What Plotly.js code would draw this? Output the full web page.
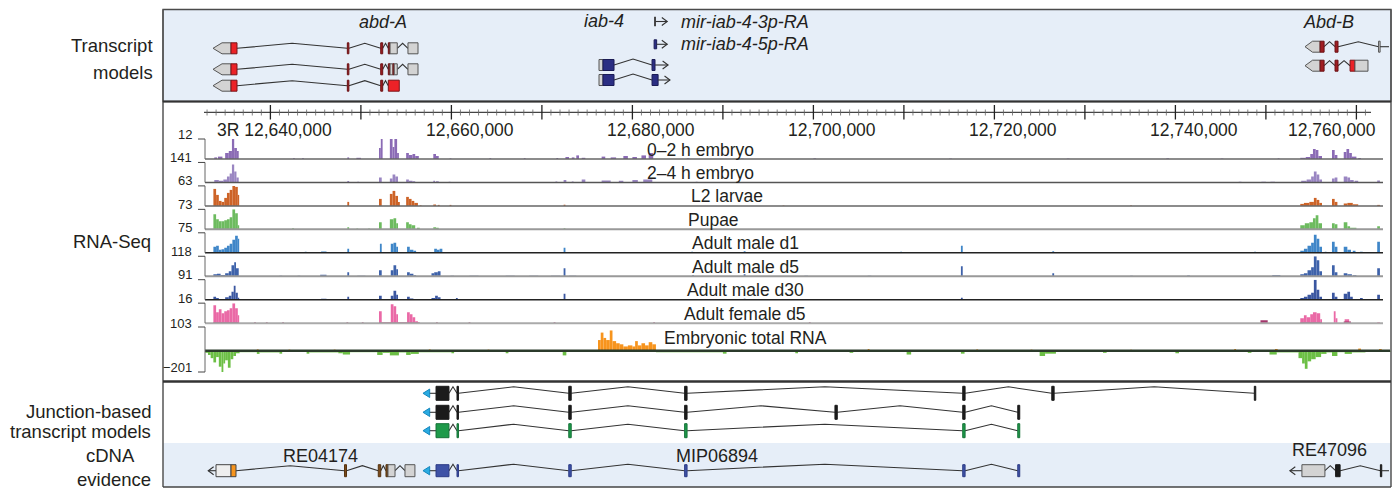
<!DOCTYPE html>
<html><head><meta charset="utf-8">
<script src="https://cdn.plot.ly/plotly-3.0.1.min.js"></script>
<style>html,body{margin:0;padding:0;background:#fff}#chart{width:1397px;height:489px}</style>
</head><body><div id="chart"></div>
<script>
// ---------------- DATA (genomic positions in kb relative to 3R:12,640,000) ----------------
const rulerLabelKb = [0, 20, 40, 60, 80, 100, 120];
const rulerLabelText = ['3R 12,640,000','12,660,000','12,680,000','12,700,000','12,720,000','12,740,000','12,760,000'];

const trackNames = ['0–2 h embryo','2–4 h embryo','L2 larvae','Pupae','Adult male d1','Adult male d5','Adult male d30','Adult female d5','Embryonic total RNA'];
const trackScaleLabels = ['12','141','63','73','75','118','91','16','103'];
const totalBottomLabel = '−201';

// coverage segments [startKb, endKb, fraction of track height]
const cov_e02 = [[-6.2,-5.9,0.08],[-5.8,-5.3,0.12],[-5.0,-4.6,0.3],[-4.6,-4.25,0.4],[-4.25,-4.0,1.0],[-4.0,-3.7,0.55],[-3.7,-3.5,0.4],
 [2.5,2.7,0.04],[3.5,3.7,0.04],[8.5,8.7,0.08],[9.5,10.0,0.06],
 [12.0,12.2,0.55],[12.2,12.4,1.0],[13.2,13.5,1.0],[13.5,13.7,0.6],[13.7,14.0,1.0],[14.0,14.2,0.3],
 [15.0,15.3,0.3],[15.3,15.7,0.2],[15.7,16.0,0.25],[16.0,16.4,0.15],[18.0,18.3,0.25],[18.3,18.6,0.15],
 [19.8,20.0,0.03],[24.2,24.4,0.04],[28.0,28.2,0.04],[31.6,31.8,0.05],[32.6,33.0,0.1],[33.3,33.6,0.08],[33.8,34.1,0.18],[34.4,34.8,0.06],
 [36.6,37.0,0.12],[37.6,38.2,0.08],[39.0,39.5,0.15],[40.0,40.5,0.1],[41.0,41.5,0.18],[41.8,42.3,0.3],
 [46.0,46.3,0.03],[52.0,52.3,0.02],[60.0,60.3,0.03],[75.0,75.3,0.02],[88.0,88.3,0.02],[99.0,99.3,0.03],[105.0,105.3,0.02],[111.3,111.5,0.03],
 [113.8,114.4,0.06],[114.4,114.9,0.1],[114.9,115.2,0.25],[115.2,115.5,0.5],[115.5,115.8,0.45],[115.8,116.2,0.15],[117.3,117.6,0.45],[117.6,117.9,0.2],
 [118.6,118.9,0.35],[118.9,119.2,0.5],[119.2,119.5,0.3],[119.5,120.0,0.12],[120.2,120.5,0.05]];
const cov_e24 = [[-6.2,-5.7,0.12],[-5.7,-5.2,0.08],[-5.2,-4.8,0.15],[-4.8,-4.5,0.3],[-4.5,-4.25,0.45],[-4.25,-4.0,0.9],[-4.0,-3.75,0.55],[-3.75,-3.5,0.25],
 [8.5,8.7,0.07],[9.6,9.8,0.03],[12.0,12.3,0.25],[13.2,13.5,0.2],[13.5,13.8,0.4],[13.8,14.1,0.3],[15.0,15.3,0.15],[15.3,15.7,0.08],[15.7,16.0,0.06],
 [18.0,18.2,0.08],[18.3,18.6,0.06],[19.7,19.9,0.03],[23.5,23.7,0.02],[31.5,31.7,0.05],[32.4,32.7,0.12],[33.3,33.5,0.05],[34.4,34.8,0.15],
 [36.6,37.6,0.1],[38.5,39.0,0.08],[40.0,40.6,0.12],[41.2,42.2,0.15],
 [44.0,44.2,0.02],[47.0,47.2,0.03],[56.0,56.2,0.02],[63.0,63.3,0.02],[78.0,78.2,0.02],[94.0,94.3,0.02],[107.0,107.3,0.03],[109.5,110.0,0.04],[110.5,111.0,0.04],
 [113.9,114.5,0.08],[114.5,115.0,0.15],[115.0,115.3,0.3],[115.3,115.6,0.55],[115.6,115.9,0.4],[115.9,116.2,0.15],[117.3,117.6,0.2],[117.6,117.9,0.25],
 [118.6,119.0,0.3],[119.0,119.3,0.25],[119.3,119.7,0.12],[119.8,120.2,0.08],[122.3,122.6,0.1]];
const cov_l2 = [[-6.3,-6.0,0.85],[-6.0,-5.7,0.55],[-5.7,-5.4,0.25],[-5.4,-5.1,0.2],[-5.1,-4.8,0.4],[-4.8,-4.5,0.65],[-4.5,-4.2,0.8],[-4.2,-3.9,1.0],[-3.9,-3.6,0.95],[-3.6,-3.45,0.55],
 [8.5,8.7,0.2],[12.0,12.3,0.35],[13.2,13.5,0.6],[13.5,13.8,0.75],[13.8,14.1,0.5],[14.1,14.3,0.2],[15.0,15.3,0.45],[15.3,15.6,0.35],[15.6,15.9,0.25],[15.9,16.3,0.15],
 [16.5,16.7,0.03],[18.0,18.3,0.07],[18.5,18.7,0.05],[19.8,20.0,0.05],[32.4,32.6,0.06],[56.6,56.8,0.02],[95.0,95.2,0.02],
 [113.8,114.2,0.1],[114.2,114.8,0.15],[114.8,115.3,0.2],[115.3,115.6,0.4],[115.6,115.9,0.3],[115.9,116.2,0.15],[117.3,117.6,0.35],[117.6,117.9,0.2],
 [118.6,119.0,0.12],[119.0,119.6,0.15],[119.6,120.2,0.08],[122.3,122.6,0.05]];
const cov_pupae = [[-6.3,-6.0,0.75],[-6.0,-5.7,0.5],[-5.7,-5.4,0.4],[-5.4,-5.1,0.4],[-5.1,-4.8,0.45],[-4.8,-4.5,0.5],[-4.5,-4.2,0.6],[-4.2,-3.9,1.0],[-3.9,-3.6,0.8],[-3.6,-3.45,0.2],
 [2.4,2.6,0.05],[8.5,8.7,0.1],[9.5,9.7,0.04],[10.8,11.0,0.04],[12.0,12.3,0.35],[13.2,13.6,0.5],[13.6,13.9,0.55],[13.9,14.1,0.3],[15.0,15.3,0.35],[15.3,15.6,0.25],[15.6,16.0,0.2],[16.2,16.5,0.08],
 [18.0,18.3,0.1],[18.3,18.6,0.08],[32.4,32.6,0.06],
 [113.8,114.3,0.2],[114.3,114.8,0.3],[114.8,115.2,0.35],[115.2,115.5,0.55],[115.5,115.8,0.7],[115.8,116.2,0.3],[117.3,117.6,0.3],[117.6,117.9,0.25],
 [118.6,119.0,0.35],[119.0,119.3,0.15],[119.3,120.0,0.08],[122.3,122.6,0.15]];
const cov_m1 = [[-6.3,-6.0,0.3],[-6.0,-5.7,0.35],[-5.7,-5.4,0.15],[-5.4,-5.1,0.18],[-5.1,-4.8,0.25],[-4.8,-4.5,0.35],[-4.5,-4.2,0.45],[-4.2,-3.9,0.65],[-3.9,-3.6,0.85],[-3.6,-3.45,0.7],
 [3.8,4.0,0.05],[4.2,4.4,0.04],[5.6,6.2,0.06],[8.5,8.7,0.2],[12.1,12.3,0.45],[13.3,13.6,0.45],[13.6,13.9,0.5],[13.9,14.1,0.3],[15.1,15.4,0.3],[15.4,15.8,0.15],[15.8,16.1,0.1],
 [18.1,18.4,0.2],[18.4,18.7,0.15],[18.7,19.0,0.2],[19.5,19.7,0.03],[22.0,22.2,0.03],[28.0,28.2,0.03],[31.3,31.5,0.03],[32.4,32.6,0.25],
 [46.5,46.7,0.05],[52.3,52.5,0.08],[69.6,69.8,0.05],[76.3,76.5,0.35],[86.4,86.6,0.08],[90.0,90.2,0.03],[100.0,100.2,0.03],[108.7,108.9,0.05],
 [113.8,114.2,0.1],[114.2,114.6,0.2],[114.6,115.0,0.35],[115.0,115.3,0.5],[115.3,115.6,0.9],[115.6,115.9,0.7],[115.9,116.2,0.3],[116.5,116.7,0.05],[117.3,117.6,0.55],[117.6,117.9,0.3],
 [118.6,119.0,0.3],[119.0,119.4,0.15],[119.6,119.9,0.1],[120.4,120.7,0.05],[122.3,122.6,0.55]];
const cov_m5 = [[-6.3,-5.9,0.1],[-5.9,-5.5,0.12],[-5.5,-5.0,0.06],[-5.0,-4.6,0.15],[-4.6,-4.3,0.25],[-4.3,-4.0,0.55],[-4.0,-3.8,0.7],[-3.8,-3.5,0.4],
 [1.0,1.3,0.02],[3.0,3.3,0.02],[5.5,6.2,0.08],[8.5,8.7,0.2],[9.6,10.5,0.02],[12.0,12.3,0.3],[13.3,13.6,0.3],[13.6,13.9,0.55],[13.9,14.1,0.35],[15.1,15.4,0.2],[15.4,15.8,0.12],[15.8,16.1,0.05],
 [17.8,18.1,0.15],[18.1,18.5,0.2],[18.5,18.8,0.25],[19.9,20.3,0.02],[22.0,23.0,0.02],[26.0,27.0,0.02],[28.6,29.6,0.02],[31.0,32.0,0.02],[32.4,32.6,0.4],[33.0,33.8,0.02],
 [46.6,46.8,0.05],[52.3,52.5,0.1],[59.0,59.4,0.02],[66.0,66.4,0.02],[76.3,76.5,0.5],[86.4,86.6,0.15],[95.0,95.3,0.02],[101.3,101.6,0.04],[110.7,111.6,0.05],
 [113.8,114.2,0.1],[114.2,114.6,0.15],[114.6,115.0,0.3],[115.0,115.3,0.45],[115.3,115.6,1.0],[115.6,115.9,0.8],[115.9,116.2,0.25],[117.3,117.6,0.55],[117.6,117.9,0.2],
 [118.6,119.0,0.15],[119.0,119.5,0.1],[119.6,120.0,0.05],[122.3,122.6,0.4]];
const cov_m30 = [[-6.3,-6.0,0.15],[-6.0,-5.7,0.08],[-5.0,-4.6,0.12],[-4.6,-4.3,0.2],[-4.3,-4.05,0.4],[-4.05,-3.85,0.7],[-3.85,-3.6,0.35],[-3.6,-3.45,0.1],
 [5.6,6.2,0.05],[8.5,8.7,0.15],[12.0,12.3,0.2],[13.3,13.6,0.2],[13.6,13.9,0.45],[13.9,14.1,0.25],[15.1,15.4,0.15],[15.4,15.8,0.06],
 [17.8,18.2,0.08],[18.2,18.5,0.2],[18.5,18.8,0.12],[20.5,20.7,0.08],[21.3,21.5,0.03],[32.4,32.6,0.3],
 [52.3,52.5,0.05],[76.3,76.5,0.1],[94.5,94.7,0.03],[101.5,101.7,0.03],
 [113.8,114.2,0.08],[114.2,114.6,0.15],[114.6,115.0,0.25],[115.0,115.3,0.35],[115.3,115.6,1.0],[115.6,115.9,0.5],[115.9,116.2,0.15],[117.3,117.6,0.35],[117.6,117.9,0.15],
 [118.6,119.0,0.3],[119.0,119.3,0.4],[119.3,119.6,0.15],[120.4,120.7,0.08],[122.3,122.6,0.25]];
const cov_f5 = [[-6.3,-6.0,0.9],[-6.0,-5.7,0.55],[-5.7,-5.4,0.7],[-5.4,-5.1,0.5],[-5.1,-4.8,0.6],[-4.8,-4.5,0.65],[-4.5,-4.2,0.75],[-4.2,-3.9,1.0],[-3.9,-3.6,0.75],[-3.6,-3.45,0.4],
 [12.0,12.3,0.6],[13.3,13.6,0.95],[13.6,13.9,0.85],[13.9,14.1,0.45],[15.1,15.4,0.55],[15.4,15.7,0.45],[15.7,16.0,0.3],[16.0,16.3,0.1],
 [113.8,114.2,0.25],[114.2,114.5,0.4],[114.5,114.9,0.3],[114.9,115.2,0.45],[115.2,115.6,0.55],[115.6,116.0,0.5],[116.0,116.2,0.2],[117.5,117.7,0.6],[117.7,117.9,0.25],[118.7,119.2,0.2],[122.3,122.6,0.05]];
const cov_f5_dark = [[-6.3,-3.5,0.06],[-1.8,-1.6,0.05],[-0.5,-0.3,0.05],[1.3,1.5,0.05],[8.4,8.6,0.05],[10.1,10.3,0.05],[12.0,16.5,0.05],[18.3,18.5,0.05],[21.9,22.1,0.04],
 [31.3,31.5,0.04],[42.3,42.5,0.05],[59.5,59.7,0.04],[109.4,110.2,0.15],[113.8,116.2,0.06],[118.6,119.4,0.08]];
const cov_tot_pos = [[36.2,36.5,0.5],[36.5,36.8,0.85],[36.8,37.1,0.6],[37.1,37.5,0.5],[37.5,37.8,0.95],[37.8,38.2,0.45],[38.2,38.6,0.35],[38.6,39.0,0.3],[39.0,39.5,0.2],
 [39.5,40.0,0.25],[40.0,40.3,0.2],[40.3,40.6,0.45],[40.6,41.0,0.25],[41.0,41.4,0.35],[41.4,41.8,0.25],[41.8,42.2,0.4],[42.2,42.6,0.3],
 [-1.5,-1.3,0.06],[2.0,2.2,0.05],[7.0,7.2,0.05],[17.5,17.7,0.06],[24.0,24.2,0.05],[52.0,52.2,0.04],[60.0,60.2,0.05],[66.0,66.2,0.08],[78.0,78.2,0.06],
 [84.0,84.2,0.05],[95.0,95.2,0.05],[106.5,106.7,0.08],[111.0,111.3,0.08],[120.2,120.5,0.1],[122.5,122.8,0.08]];
const cov_tot_neg = [[-7.2,-6.9,-0.1],[-6.9,-6.6,-0.2],[-6.6,-6.3,-0.35],[-6.3,-6.0,-0.55],[-6.0,-5.7,-0.3],[-5.7,-5.4,-0.75],[-5.4,-5.2,-1.0],[-5.2,-5.0,-0.6],[-5.0,-4.7,-0.45],
 [-4.7,-4.4,-0.8],[-4.4,-4.1,-0.4],[-4.1,-3.8,-0.25],[-3.8,-3.4,-0.12],[-3.4,-1.5,-0.07],[-1.5,-1.2,-0.15],[-1.2,1.0,-0.08],[1.0,1.3,-0.14],[1.3,4.0,-0.06],[4.0,4.3,-0.14],
 [4.3,7.5,-0.08],[7.5,8.0,-0.12],[8.0,8.8,-0.18],[8.8,11.8,-0.07],[11.8,12.4,-0.2],[12.4,13.2,-0.1],[13.2,14.2,-0.22],[14.2,15.0,-0.08],[15.0,15.5,-0.2],[15.5,16.4,-0.15],
 [16.4,20.0,-0.07],[20.0,20.3,-0.12],[20.3,26.0,-0.06],[26.0,26.3,-0.12],[26.3,32.3,-0.06],[32.3,32.7,-0.22],[32.7,36.0,-0.06],[36.0,42.6,-0.04],[42.6,50.0,-0.07],
 [50.0,50.4,-0.14],[50.4,58.0,-0.06],[58.0,58.3,-0.12],[58.3,64.0,-0.05],[64.0,64.4,-0.1],[64.4,70.3,-0.06],[70.3,70.8,-0.18],[70.8,76.3,-0.06],[76.3,76.7,-0.14],
 [76.7,85.0,-0.05],[85.0,85.6,-0.25],[85.6,86.8,-0.14],[86.8,92.0,-0.06],[92.0,92.4,-0.1],[92.4,100.0,-0.05],[100.0,100.4,-0.12],[100.4,108.0,-0.06],[108.0,108.4,-0.1],
 [108.4,110.4,-0.06],[110.4,111.2,-0.18],[111.2,113.6,-0.08],[113.6,114.0,-0.35],[114.0,114.3,-0.6],[114.3,114.6,-0.85],[114.6,115.0,-0.5],[115.0,115.5,-0.4],
 [115.5,116.1,-0.3],[116.1,116.7,-0.15],[116.7,117.3,-0.08],[117.3,117.9,-0.25],[117.9,118.7,-0.07],[118.7,119.5,-0.15],[119.5,121.0,-0.08],[121.0,123.8,-0.06]];

// gene models: exon parts [startKb, endKb, kind]
const abdA_tx = [
 [[-6.34,-4.35,'u'],[-4.35,-3.69,'c'],[8.50,8.67,'d'],[12.19,12.41,'d'],[13.03,13.22,'d'],[13.22,14.02,'u'],[15.20,16.31,'u']],
 [[-6.34,-4.35,'u'],[-4.35,-3.69,'c'],[8.50,8.67,'d'],[12.19,12.41,'d'],[13.03,13.22,'d'],[13.22,13.55,'u'],[13.55,13.68,'d'],[13.68,14.02,'u'],[15.20,16.31,'u']],
 [[-6.34,-4.35,'u'],[-4.35,-3.69,'c'],[8.50,8.67,'d'],[12.19,12.41,'d'],[13.03,14.24,'c']]];
const iab4_tx = [
 [[36.31,36.75,'u'],[36.75,37.97,'n'],[42.17,42.50,'n']],
 [[36.31,36.75,'u'],[36.75,37.97,'n'],[42.17,42.84,'n']]];
const iab4_end = [43.94, 44.15];
const mir_tx = [[42.45,42.55,'mirA','mir-iab-4-3p-RA'],[42.40,42.68,'n','mir-iab-4-5p-RA']];
const mir_end = 43.85;
const abdB_tx = [
 [[114.32,115.99,'u'],[115.99,116.43,'d'],[117.64,117.97,'d'],[122.45,122.62,'u']],
 [[114.32,115.99,'u'],[115.99,116.43,'d'],[117.64,117.97,'d'],[119.30,119.84,'c'],[119.84,121.28,'u']]];
const abdB_tail = 123.6;
const junc_tx = [
 [[18.30,19.73,'k'],[20.62,20.78,'k'],[32.97,33.24,'k'],[45.77,46.04,'k'],[76.50,76.76,'k'],[86.34,86.60,'k'],[108.72,108.88,'k']],
 [[18.30,19.73,'k'],[20.62,20.78,'k'],[32.97,33.24,'k'],[45.77,46.04,'k'],[62.38,62.64,'k'],[76.50,76.76,'k'],[82.58,82.80,'k']],
 [[18.30,19.73,'g'],[20.62,20.78,'g'],[32.97,33.24,'g'],[45.77,46.04,'g'],[76.50,76.76,'g'],[82.58,82.80,'g']]];
const cdna_RE04174 = [[-6.01,-4.35,'w'],[-4.35,-3.80,'o'],[8.19,8.41,'r'],[11.92,12.19,'r'],[12.77,12.99,'r'],[12.99,13.77,'u'],[14.87,15.97,'u']];
const cdna_MIP06894 = [[18.30,19.73,'b'],[20.62,20.78,'b'],[32.97,33.24,'b'],[45.77,46.04,'b'],[76.50,76.76,'b'],[82.58,82.80,'b']];
const cdna_RE47096 = [[113.98,116.52,'u'],[117.70,118.20,'k'],[122.65,122.80,'k']];
const cdnaNames = ['RE04174','MIP06894','RE47096'];
const geneNames = ['abd-A','iab-4','Abd-B'];

// ---------------- LAYOUT / STYLE ----------------
const W = 1397, H = 489;
const PX0 = 270.4, PXK = 9.05;             // pixel of kb 0, pixels per kb
const Y = py => 1 - py / H, X = px => px / W;
const FONT = 'Liberation Sans, Arial, Helvetica, sans-serif';
const TXT = '#231f20';
const shapes = [], ann = [];

function rectP(x0,x1,y0,y1,fill,line,lw){shapes.push({type:'rect',xref:'paper',yref:'paper',x0:X(x0),x1:X(x1),y0:Y(y1),y1:Y(y0),fillcolor:fill||'rgba(0,0,0,0)',line:{color:line||'rgba(0,0,0,0)',width:lw||0},layer:'above'});}
function lineP(x0,y0,x1,y1,color,w){shapes.push({type:'line',xref:'paper',yref:'paper',x0:X(x0),y0:Y(y0),x1:X(x1),y1:Y(y1),line:{color:color,width:w},layer:'above'});}
function lineK(k0,y0,k1,y1,color,w){shapes.push({type:'line',xref:'x',yref:'paper',x0:k0,y0:Y(y0),x1:k1,y1:Y(y1),line:{color:color,width:w},layer:'above'});}
function rectK(k0,k1,yc,h,fill,line,lw){shapes.push({type:'rect',xref:'x',yref:'paper',x0:k0,x1:k1,y0:Y(yc+h/2),y1:Y(yc-h/2),fillcolor:fill,line:{color:line,width:lw},layer:'above'});}
function pathK(pts,close,fill,line,lw){
  const d = pts.map((p,i)=>(i?'L':'M')+p[0].toFixed(4)+','+Y(p[1]).toFixed(5)).join(' ')+(close?' Z':'');
  shapes.push({type:'path',xref:'x',yref:'paper',path:d,fillcolor:fill||'rgba(0,0,0,0)',line:{color:line,width:lw},layer:'above'});
}
function text(t,px,py,size,opts){
  opts=opts||{};
  ann.push({text:t,xref:opts.xk!==undefined?'x':'paper',x:opts.xk!==undefined?opts.xk:X(px),yref:'paper',y:Y(py),
    xanchor:opts.anchor||'center',yanchor:'middle',showarrow:false,
    font:{family:FONT,size:size,color:opts.color||TXT,style:opts.italic?'italic':'normal'}});
}
const EX = {
  u:{fill:'#d3d3d3',line:'#555555'}, c:{fill:'#ec2227',line:'#7a1418'}, d:{fill:'#a01d22',line:'#6a1013'},
  n:{fill:'#2b2e83',line:'#1b1c55'}, k:{fill:'#1b1b1b',line:'#1b1b1b'}, g:{fill:'#1e9a4a',line:'#157238'},
  b:{fill:'#3e52a6',line:'#2c3b86'}, w:{fill:'#eeeeee',line:'#444444'}, o:{fill:'#f7941d',line:'#444444'},
  r:{fill:'#7a4a1c',line:'#55330f'}, mirA:{fill:'#444444',line:'#444444'}
};
function drawTx(parts,yc,h,dy,icol,arrowLeft){
  for(let i=1;i<parts.length;i++){
    const a=parts[i-1][1], b=parts[i][0];
    if(b-a>0.05){const m=(a+b)/2; pathK([[a,yc],[m,yc-dy],[b,yc]],false,null,icol,1.1);}
  }
  parts.forEach((p,i)=>{
    const st=EX[p[2]];
    if(i===0&&arrowLeft){const sh=Math.min(1.0,(p[1]-p[0])*0.5);
      pathK([[p[0],yc],[p[0]+sh,yc-h/2],[p[1],yc-h/2],[p[1],yc+h/2],[p[0]+sh,yc+h/2]],true,st.fill,st.line,1);}
    else rectK(p[0],p[1],yc,h,st.fill,st.line,1);
  });
}
function arrowRight(k0,k1,yc,col){lineK(k0,yc,k1,yc,col,1.1);pathK([[k1-0.6,yc-4],[k1,yc],[k1-0.6,yc+4]],false,null,col,1.1);}
function openArrowLeft(k0,k1,yc,col){lineK(k0,yc,k1,yc,col,1.1);pathK([[k0+0.6,yc-4],[k0,yc],[k0+0.6,yc+4]],false,null,col,1.1);}
function cyanArrow(yc){lineK(17.5,yc,18.3,yc,'#333',1.1);pathK([[16.86,yc],[17.6,yc-4.2],[17.6,yc+4.2]],true,'#29abe2','#1587bd',1);}

// ---- panels ----
rectP(163,1391,9.5,101.5,'#e6eef8','#4a4a4a',1.3);
rectP(163,1391,443,487,'#e6eef8',null,0);
lineP(163,9.5,163,487,'#555',1.5);
lineP(1391,9.5,1391,487,'#555',1.5);
lineP(163,101.5,1391,101.5,'#333',2);
lineP(163,381.5,1391,381.5,'#333',2.5);
lineP(163,487,1391,487,'#444',1.5);

// ---- left labels ----
text('Transcript',155,46,18.5,{anchor:'right'});
text('models',155,72,18.5,{anchor:'right'});
text('RNA-Seq',153,242,18.5,{anchor:'right'});
text('Junction-based',153,411,18.5,{anchor:'right'});
text('transcript models',153,431,18.5,{anchor:'right'});
text('cDNA',110,455,18.5);
text('evidence',153,479,18.5,{anchor:'right'});

// ---- transcript models ----
text(geneNames[0],383,22,18,{italic:true});
text(geneNames[1],604,21,18,{italic:true});
text(geneNames[2],1328,22,18,{italic:true});
[48.3,69.3,85.7].forEach((yc,i)=>drawTx(abdA_tx[i],yc,11,5,'#333',true));
[65,80].forEach((yc,i)=>{drawTx(iab4_tx[i],yc,11,6,'#333',false);arrowRight(iab4_tx[i][iab4_tx[i].length-1][1],iab4_end[i],yc,'#333');});
[21.5,44.3].forEach((yc,i)=>{const m=mir_tx[i];rectK(m[0],m[1],yc,9,EX[m[2]].fill,EX[m[2]].line,1);arrowRight(m[1],mir_end,yc,'#333');
  text(m[3],679,yc,18,{anchor:'left',italic:true});});
[46.7,65.7].forEach((yc,i)=>drawTx(abdB_tx[i],yc,11,5,'#333',true));
lineK(abdB_tx[0][abdB_tx[0].length-1][1],46.7,abdB_tail,46.7,'#333',1.1);

// ---- ruler ----
lineP(204,112.4,1371,112.4,'#444',1.1);
for(let k=-7;k<=121;k++){
  if(k%10===0) lineK(k,105,k,119.5,'#222',1.3);
  else lineK(k,109.5,k,115.5,'#666',0.8);
}
const rulerOffset=[0.45,2.1,2.1,2.1,2.1,2.1,-2.65];
rulerLabelKb.forEach((kb,i)=>text(rulerLabelText[i],0,130,17.5,{xk:kb+rulerOffset[i]}));

// ---- RNA-seq tracks ----
const trackColors=['#8b6bb5','#9a86c2','#cd6327','#6dbb5f','#3f86c8','#3e62aa','#3a56a0','#ea69a6'];
const baseColors=['#666','#555','#666','#999','#222','#999','#222','#aaa'];
const baseWidths=[1.5,1.5,1.5,2,1.5,2,1.5,2];
const labelX=[701,701,727,713,745,745,746,745,745];
const covs=[cov_e02,cov_e24,cov_l2,cov_pupae,cov_m1,cov_m5,cov_m30,cov_f5];
const traces=[]; const layout={};
function barTrace(seg,axis,color){
  return {type:'bar',x:seg.map(s=>(s[0]+s[1])/2),y:seg.map(s=>s[2]),width:seg.map(s=>s[1]-s[0]),
    marker:{color:color,line:{width:0}},xaxis:'x',yaxis:axis,hoverinfo:'skip',showlegend:false};
}
for(let i=0;i<8;i++){
  const base=159+23.45*i, top=base-20;
  const ax='y'+(i+2);
  layout['yaxis'+(i+2)]={domain:[Y(base),Y(top)],range:[0,1],visible:false,fixedrange:true};
  traces.push(barTrace(covs[i],ax,trackColors[i]));
  if(i===7) traces.push(barTrace(cov_f5_dark,ax,'#a3366b'));
  lineP(205,base,1383,base,baseColors[i],baseWidths[i]);
  lineP(205,top,205,base,'#666',1);
  lineP(198,top,205,top,'#444',1);
  text(trackScaleLabels[i],194,top-5,13,{anchor:'right'});
  text(trackNames[i],labelX[i],top+10.5,17.5);
}
// total RNA track
{
  const top=327, zero=350.7, bot=372;
  layout.yaxis10={domain:[Y(bot),Y(top)],range:[-1,(zero-top)/(bot-zero)],visible:false,fixedrange:true};
  traces.push(barTrace(cov_tot_pos,'y10','#f7941d'));
  traces.push(barTrace(cov_tot_neg,'y10','#6cbf45'));
  lineP(205,zero,1390,zero,'#2b3a2b',2.5);
  lineP(205,top,205,bot,'#666',1);
  lineP(198,top,205,top,'#444',1);
  lineP(198,bot,205,bot,'#444',1);
  text(trackScaleLabels[8],194,top-4,13,{anchor:'right'});
  text(totalBottomLabel,194,bot-5,13,{anchor:'right'});
  text(trackNames[8],labelX[8],337.5,17.5);
}

// ---- junction-based models ----
[393.3,412.3,430.7].forEach((yc,i)=>{cyanArrow(yc);drawTx(junc_tx[i],yc,14,6.5,'#333',false);});

// ---- cDNA evidence ----
const cy=470.7;
openArrowLeft(-6.87,-6.01,cy,'#333');
drawTx(cdna_RE04174,cy,12,5,'#333',false);
cyanArrow(cy);
drawTx(cdna_MIP06894,cy,12,6.5,'#333',false);
openArrowLeft(112.65,113.98,cy,'#333');
drawTx(cdna_RE47096,cy,12,5,'#333',false);
lineK(122.8,cy,123.6,cy,'#333',1.1);
text(cdnaNames[0],320,456,18);
text(cdnaNames[1],717,456,18);
text(cdnaNames[2],1329,450,18);

Object.assign(layout,{
  width:W,height:H,margin:{l:0,r:0,t:0,b:0},paper_bgcolor:'#fff',plot_bgcolor:'rgba(0,0,0,0)',
  barmode:'overlay',showlegend:false,
  xaxis:{range:[(0-PX0)/PXK,(W-PX0)/PXK],visible:false,fixedrange:true},
  yaxis:{range:[0,1],visible:false,fixedrange:true},
  shapes:shapes,annotations:ann
});
Plotly.newPlot('chart',traces,layout,{staticPlot:true,displayModeBar:false});
</script></body></html>
